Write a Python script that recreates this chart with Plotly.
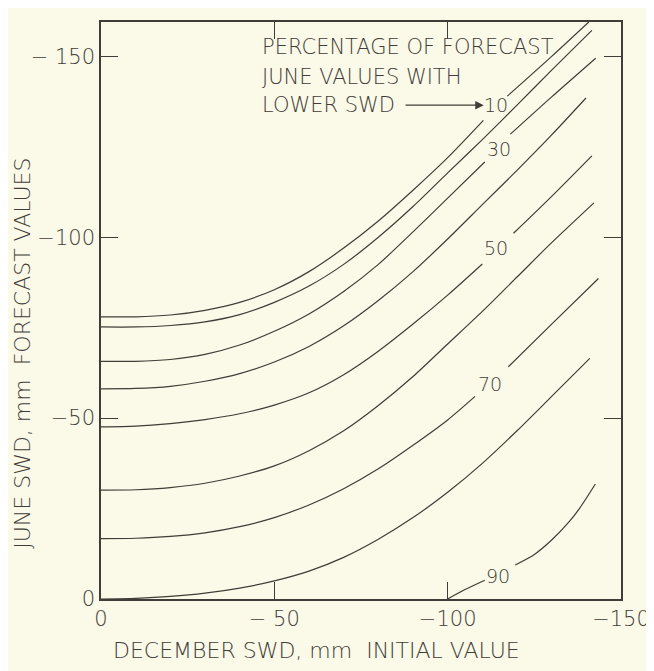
import plotly.graph_objects as go

# ---- data ----
x_tickvals = [0, -50, -100, -150]
x_ticktext = ["0", "− 50", "−100", "−150"]
y_tickvals = [0, -50, -100, -150]
y_ticktext = ["0", "−50", "−100", "− 150"]

# percentage curves (None = gap where the curve label sits)
c10_x = [0, -10, -20, -30, -40, -50, -60, -70, -80, -90, -100, -110.3, None, -117.2, -130, -140.7]
c10_y = [-78, -78, -78.5, -79.8, -82, -85.5, -90.5, -97, -104.5, -113, -122, -132.3, None, -139, -150, -159.5]

c20_x = [0, -10, -20, -30, -40, -50, -60, -70, -80, -90, -100, -110, -120, -130, -141.6]
c20_y = [-75.2, -75.2, -75.6, -76.6, -78.6, -82, -86.5, -92.5, -100, -108.5, -117.8, -127, -136.5, -146.2, -157.2]

c30_x = [0, -10, -20, -30, -40, -50, -60, -70, -80, -90, -100, -110.7, None, -118.1, -130, -142.7]
c30_y = [-65.7, -65.7, -66.2, -67.6, -70.2, -74, -78.8, -85, -92.5, -101.5, -110.8, -120.8, None, -128.5, -138.8, -149.5]

c40_x = [0, -10, -20, -30, -40, -50, -60, -70, -80, -90, -100, -110, -120, -130, -139.9]
c40_y = [-58.1, -58.2, -58.8, -60.2, -62.3, -65.5, -69.8, -75.5, -82.5, -90.5, -99.5, -109, -118.5, -128.3, -138.5]

c50_x = [0, -10, -20, -30, -40, -50, -60, -70, -80, -90, -100, -110, None, -119, -130, -141.6]
c50_y = [-47.6, -47.8, -48.5, -49.6, -51.2, -53.6, -57, -62, -68.5, -76, -84, -92.6, None, -101.1, -111.3, -122.5]

c60_x = [0, -10, -20, -30, -40, -50, -60, -70, -80, -90, -100, -110, -120, -130, -142.2]
c60_y = [-30.1, -30.2, -30.8, -32, -34, -36.8, -41, -46.5, -53.5, -61.5, -70.5, -79.5, -89, -98.5, -109.5]

c70_x = [0, -10, -20, -30, -40, -50, -60, -70, -80, -90, -100, -107.9, None, -117.5, -130, -143.5]
c70_y = [-16.7, -16.8, -17.3, -18.3, -20, -22.5, -26, -30.5, -36, -42.5, -49.5, -56, None, -64.2, -76, -88.6]

c80_x = [0, -10, -20, -30, -40, -50, -60, -70, -80, -90, -100, -110, -120, -130, -141]
c80_y = [0, -0.2, -0.7, -1.6, -3, -5, -7.7, -11.5, -16.5, -22.5, -29.5, -37.5, -46.5, -56, -66.5]

c90_x = [-100, -105, -110.7, None, -119.5, -125, -130, -135, -138, -142.6]
c90_y = [0, -2.6, -5.2, None, -9.4, -12.3, -16.3, -21.3, -25, -31.8]

label_text = ["10", "30", "50", "70", "90"]
label_x = [-113.8, -114.9, -113.8, -112.3, -114.4]
label_y = [-136.6, -124.3, -96.9, -59.3, -6.3]

note_lines = ["PERCENTAGE OF FORECAST", "JUNE VALUES WITH", "LOWER SWD"]
note_y = [-152.6, -144.2, -136.5]

# ---- style ----
BG = "#fbf9e7"
INK = "#403c37"
FONT = "DejaVu Sans"
WEIGHT = 200

curves = [(c10_x, c10_y), (c20_x, c20_y), (c30_x, c30_y), (c40_x, c40_y), (c50_x, c50_y),
          (c60_x, c60_y), (c70_x, c70_y), (c80_x, c80_y), (c90_x, c90_y)]

fig = go.Figure()
for cx, cy in curves:
    fig.add_trace(go.Scatter(x=cx, y=cy, mode="lines", connectgaps=False,
                             line=dict(color=INK, width=1.2, shape="spline", smoothing=0.8),
                             hoverinfo="skip", showlegend=False))


def f(size):
    return dict(family=FONT, size=size, color=INK, weight=WEIGHT)


annotations = []
for t, lx, ly in zip(label_text, label_x, label_y):
    annotations.append(dict(x=lx, y=ly, xref="x", yref="y", text=t, showarrow=False,
                            xanchor="center", yanchor="middle", font=f(19)))
for t, ny in zip(note_lines, note_y):
    annotations.append(dict(x=-45.9, y=ny, xref="x", yref="y", text=t, showarrow=False,
                            xanchor="left", yanchor="middle", font=f(21)))
# arrow from "LOWER SWD" to the 10 label
annotations.append(dict(x=-110.4, y=-136.5, ax=-87.4, ay=-136.5, xref="x", yref="y",
                        axref="x", ayref="y", text="", showarrow=True, arrowhead=2,
                        arrowsize=1.3, arrowwidth=1.3, arrowcolor=INK))
# axis titles
annotations.append(dict(x=0.4146, y=-0.090, xref="paper", yref="paper",
                        xanchor="center", yanchor="middle",
                        text="DECEMBER SWD, mm  INITIAL VALUE", showarrow=False, font=f(22)))
annotations.append(dict(x=-0.150, y=0.425, xref="paper", yref="paper", textangle=-90,
                        xanchor="center", yanchor="middle",
                        text="JUNE SWD, mm  FORECAST VALUES", showarrow=False, font=f(22)))

axis_common = dict(showgrid=False, zeroline=False, showline=True, linecolor=INK, linewidth=1.6,
                   mirror="ticks", ticks="inside", ticklen=17, tickwidth=1.3, tickcolor=INK,
                   ticklabeloverflow="allow", tickfont=f(21))

fig.update_layout(
    width=654, height=671, autosize=False,
    margin=dict(l=93, r=17, t=12, b=80),
    paper_bgcolor=BG, plot_bgcolor=BG,
    font=dict(family=FONT, color=INK),
    xaxis=dict(range=[0, -150], tickmode="array", tickvals=x_tickvals, ticktext=x_ticktext, **axis_common),
    yaxis=dict(range=[0, -159.5], tickmode="array", tickvals=y_tickvals, ticktext=y_ticktext, **axis_common),
    annotations=annotations,
    showlegend=False,
)

fig.write_html("out.html", config={"displayModeBar": False})
